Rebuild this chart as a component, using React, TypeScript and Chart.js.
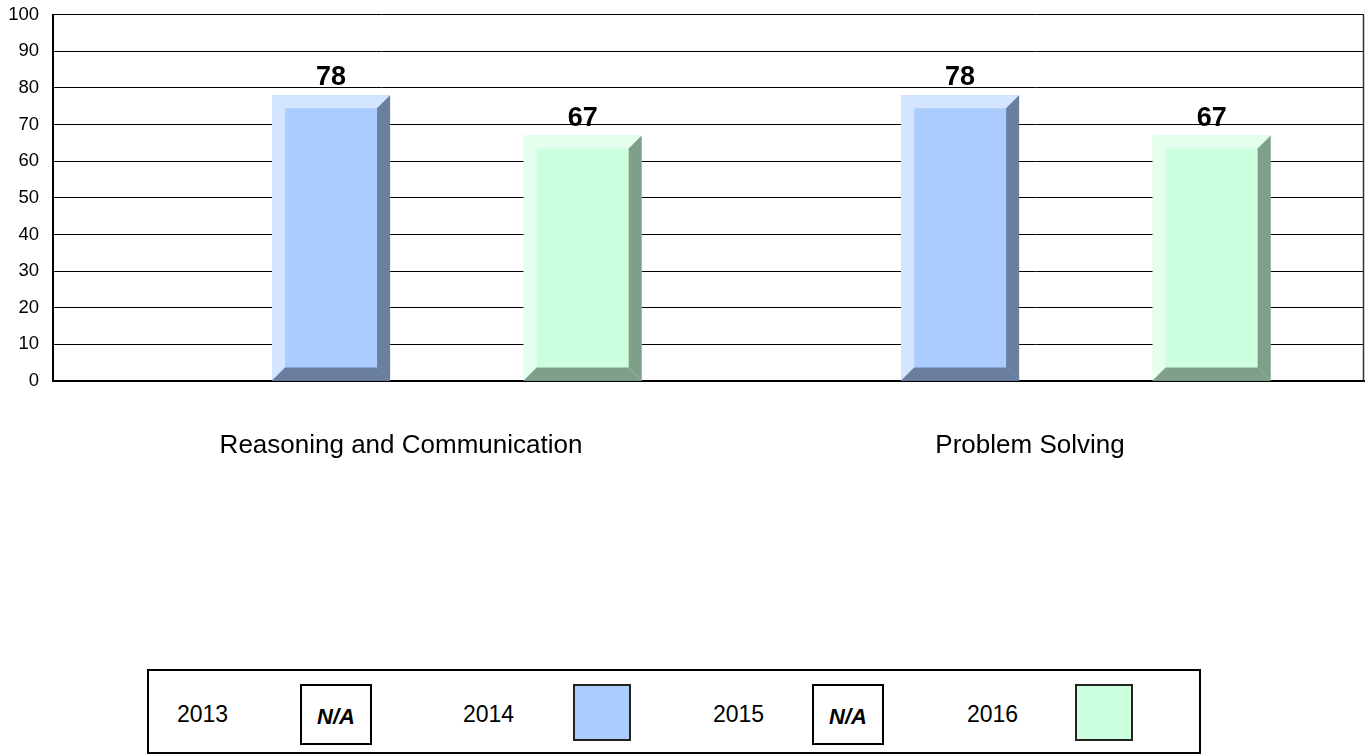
import React, { useEffect, useRef } from "react";
import { Chart, registerables } from "chart.js";

Chart.register(...registerables);

const categories = ["Reasoning and Communication", "Problem Solving"];
const years = ["2013", "2014", "2015", "2016"];
const values2013: (number | null)[] = [null, null];
const values2014: (number | null)[] = [78, 78];
const values2015: (number | null)[] = [null, null];
const values2016: (number | null)[] = [67, 67];
const yMin = 0;
const yMax = 100;
const yStep = 10;

const seriesValues = [values2013, values2014, values2015, values2016];
const faceColors = ["#FFFFFF", "#AACCFF", "#FFFFFF", "#CCFFDD"];
const lightColors = ["#FFFFFF", "#D4E5FF", "#FFFFFF", "#E5FFEE"];
const darkColors = ["#888888", "#6A7F9F", "#888888", "#7F9F8A"];
const naFlags = [true, false, true, false];

const FONT = "'Liberation Sans', Arial, Helvetica, sans-serif";

function poly(ctx: CanvasRenderingContext2D, color: string, pts: number[][]) {
  ctx.beginPath();
  ctx.moveTo(pts[0][0], pts[0][1]);
  for (let i = 1; i < pts.length; i++) ctx.lineTo(pts[i][0], pts[i][1]);
  ctx.closePath();
  ctx.fillStyle = color;
  ctx.fill();
}

const bevelPlugin = {
  id: "bevelBars",
  afterDatasetsDraw(chart: any) {
    const ctx: CanvasRenderingContext2D = chart.ctx;
    ctx.save();
    chart.data.datasets.forEach((_ds: any, di: number) => {
      const meta = chart.getDatasetMeta(di);
      meta.data.forEach((el: any, i: number) => {
        const v = seriesValues[di][i];
        if (v == null) return;
        const { x, y, base, width } = el.getProps(["x", "y", "base", "width"], true);
        const L = x - width / 2;
        const R = x + width / 2;
        const T = Math.min(y, base);
        const B = Math.max(y, base);
        const b = 13;
        poly(ctx, lightColors[di], [[L, T], [R, T], [R - b, T + b], [L + b, T + b]]);
        poly(ctx, lightColors[di], [[L, T], [L + b, T + b], [L + b, B - b], [L, B]]);
        poly(ctx, darkColors[di], [[R, T], [R, B], [R - b, B - b], [R - b, T + b]]);
        poly(ctx, darkColors[di], [[L, B], [R, B], [R - b, B - b], [L + b, B - b]]);
        ctx.fillStyle = "#000";
        ctx.font = `bold 27px ${FONT}`;
        ctx.textAlign = "center";
        ctx.textBaseline = "alphabetic";
        ctx.fillText(String(v), x, T - 10);
      });
    });
    ctx.restore();
  },
  afterDraw(chart: any) {
    const { ctx, chartArea } = chart;
    ctx.save();
    ctx.strokeStyle = "#333";
    ctx.lineWidth = 1.5;
    ctx.beginPath();
    ctx.moveTo(chartArea.right - 0.5, chartArea.top);
    ctx.lineTo(chartArea.right - 0.5, chartArea.bottom);
    ctx.stroke();
    ctx.restore();
  },
};

export default function App() {
  const canvasRef = useRef<HTMLCanvasElement | null>(null);

  useEffect(() => {
    if (!canvasRef.current) return;
    const chart = new Chart(canvasRef.current, {
      type: "bar",
      data: {
        datasets: years.map((yr, di) => ({
          label: yr,
          data: categories.map((_c, i) => ({ x: i, y: seriesValues[di][i] })),
          backgroundColor: faceColors[di],
          borderWidth: 0,
          barPercentage: 0.938,
          categoryPercentage: 0.8,
        })),
      },
      options: {
        animation: false,
        responsive: false,
        layout: { padding: { top: 14.6, right: 3, bottom: 0, left: 0 } },
        plugins: {
          legend: { display: false },
          tooltip: { enabled: false },
        },
        scales: {
          x: {
            type: "linear",
            offset: false,
            bounds: "data",
            min: -0.5421,
            max: 1.5421,
            grid: { display: false, drawTicks: false, offset: false },
            border: { display: true, color: "#000", width: 2 },
            afterBuildTicks: (scale: any) => {
              scale.ticks = categories.map((_c, i) => ({ value: i }));
            },
            afterFit: (scale: any) => {
              scale.height = 119;
            },
            ticks: {
              autoSkip: false,
              maxRotation: 0,
              minRotation: 0,
              padding: 49,
              labelOffset: 7,
              color: "#000",
              font: { family: FONT, size: 26 },
              callback: (v: any) => categories[Number(v)] ?? "",
            },
          },
          y: {
            min: yMin,
            max: yMax,
            grid: { color: "#000", lineWidth: 1, drawTicks: false },
            border: { display: true, color: "#000", width: 2 },
            afterFit: (scale: any) => {
              scale.width = 53;
              scale.paddingTop = 0;
              scale.paddingBottom = 0;
            },
            ticks: {
              stepSize: yStep,
              padding: 14,
              color: "#000",
              font: { family: FONT, size: 18.5 },
            },
          },
        },
      },
      plugins: [bevelPlugin],
    } as any);
    return () => chart.destroy();
  }, []);

  const textStyle = (left: number): React.CSSProperties => ({
    position: "absolute",
    left,
    top: 684,
    height: 61,
    display: "flex",
    alignItems: "center",
    fontFamily: FONT,
    fontSize: 23,
    color: "#000",
    whiteSpace: "nowrap",
  });

  const naBox = (left: number): React.CSSProperties => ({
    position: "absolute",
    left,
    top: 684,
    width: 72,
    height: 61,
    boxSizing: "border-box",
    border: "2px solid #000",
    display: "flex",
    alignItems: "center",
    justifyContent: "center",
    fontFamily: FONT,
    fontWeight: "bold",
    fontStyle: "italic",
    fontSize: 22,
    color: "#000",
    paddingTop: 4,
  });

  const swatch = (left: number, color: string): React.CSSProperties => ({
    position: "absolute",
    left,
    top: 684,
    width: 58,
    height: 57,
    boxSizing: "border-box",
    border: "2px solid #222",
    background: color,
  });

  const textLefts = [177, 463, 713, 967];
  const boxLefts = [300, 573, 812, 1075];

  return (
    <div
      style={{
        position: "fixed",
        left: 0,
        top: 0,
        width: 1367,
        height: 755,
        background: "#fff",
        overflow: "hidden",
      }}
    >
      <canvas ref={canvasRef} width={1367} height={500} style={{ display: "block" }} />
      <div
        style={{
          position: "absolute",
          left: 147,
          top: 669,
          width: 1054,
          height: 85,
          boxSizing: "border-box",
          border: "2px solid #000",
        }}
      />
      {years.map((yr, di) => (
        <React.Fragment key={yr}>
          <div style={textStyle(textLefts[di])}>{yr}</div>
          {naFlags[di] ? (
            <div style={naBox(boxLefts[di])}>N/A</div>
          ) : (
            <div style={swatch(boxLefts[di], faceColors[di])} />
          )}
        </React.Fragment>
      ))}
    </div>
  );
}
